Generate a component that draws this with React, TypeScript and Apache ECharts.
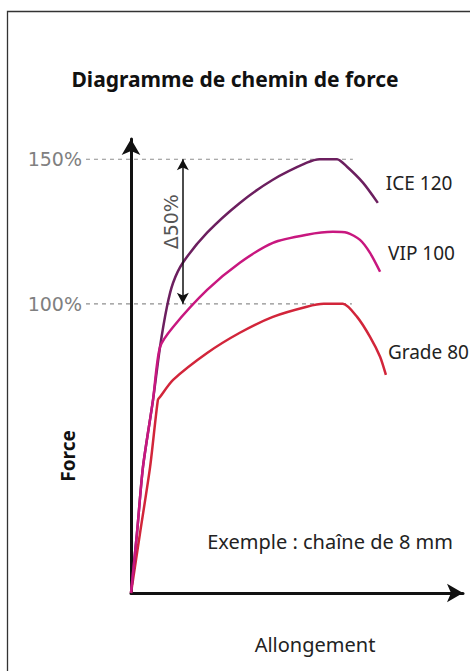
import React, { useEffect, useRef } from "react";
import * as echarts from "echarts";

const seriesNames = ["Grade 80", "ICE 120", "VIP 100"];
const seriesColors = ["#d2253a", "#6c1f5f", "#c8177f"];

// [elongation (arbitrary units), force %]
const grade80: number[][] = [
  [0, 0], [2.8, 20.8], [5.9, 43.6], [8.3, 66.8], [8.95, 67.8], [13, 73.7], [23.5, 83], [33.6, 90],
  [43.8, 95.5], [54.3, 99], [59.5, 100], [65.4, 100], [69.8, 95.5], [73.8, 88.6], [76.9, 81.7], [78.7, 75.4],
];
const ice120: number[][] = [
  [0, 0], [1.85, 20.8], [3.7, 43.6], [6.8, 66.8], [8.95, 85], [11.1, 99], [13, 107.3], [16, 114.2],
  [23.5, 124.6], [33.6, 134.9], [43.8, 142.9], [54.3, 148.8], [58.3, 150], [63.6, 150], [66.7, 147.4],
  [71.6, 141.9], [76.2, 134.9],
];
const vip100: number[][] = [
  [0, 0], [1.85, 20.8], [3.7, 43.6], [6.8, 66.8], [8.95, 85], [13, 92], [23.5, 104.8], [33.6, 114.2],
  [43.8, 121.1], [54.3, 123.9], [62.3, 124.9], [66.7, 124.6], [70.7, 122.1], [73.8, 117.6], [76.9, 111.1],
];
const seriesData = [grade80, ice120, vip100];
const labelOffsets = [[-6, -23], [0, -20], [0, -19]];

const yTickLabels = [100, 150];
const refLines = [
  { y: 150, xStart: -13.9, xEnd: 68.5 },
  { y: 100, xStart: -13.9, xEnd: 68.2 },
];
const deltaArrow = { x: 16, from: 150, to: 100, text: "Δ50%", textX: 12.5, textY: 128.4 };

const FONT = "'Noto Sans', 'Open Sans', sans-serif";

export default function App() {
  const ref = useRef<HTMLDivElement>(null);
  useEffect(() => {
    if (!ref.current) return;
    const chart = echarts.init(ref.current, null, { renderer: "svg" });
    const series: any[] = seriesNames.map((name, i) => ({
      type: "line",
      name,
      data: seriesData[i],
      smooth: 0.25,
      showSymbol: false,
      symbol: "none",
      lineStyle: { color: seriesColors[i], width: 2.5 },
      itemStyle: { color: seriesColors[i] },
      z: 3 + i,
      endLabel: {
        show: true,
        formatter: "{a}",
        offset: labelOffsets[i],
        fontSize: 19,
        fontFamily: FONT,
        color: "#222",
      },
    }));
    series.push({
      type: "line",
      data: [],
      silent: true,
      markPoint: {
        silent: true,
        symbol: "circle",
        symbolSize: 1,
        itemStyle: { color: "rgba(0,0,0,0)" },
        label: {
          show: true,
          formatter: deltaArrow.text,
          rotate: 90,
          position: "inside",
          fontSize: 19,
          fontFamily: "'DejaVu Sans', sans-serif",
          color: "#555",
        },
        data: [{ coord: [deltaArrow.textX, deltaArrow.textY] }],
      },
      markLine: {
        silent: true,
        symbol: ["arrow", "arrow"],
        symbolSize: [9, 11],
        label: { show: false },
        lineStyle: { color: "#111", type: "solid", width: 1.5 },
        data: [[{ coord: [deltaArrow.x, deltaArrow.from] }, { coord: [deltaArrow.x, deltaArrow.to] }]],
      },
    });

    const baseGraphic: any[] = [
      {
        type: "rect",
        shape: { x: 7.5, y: 11.5, width: 500, height: 700 },
        style: { fill: "none", stroke: "#333", lineWidth: 1.3 },
        silent: true,
      },
      {
        type: "text",
        x: 68,
        y: 456,
        rotation: Math.PI / 2,
        style: { text: "Force", fontSize: 19, fontWeight: "bold", fontFamily: FONT, fill: "#111", align: "center", verticalAlign: "middle" },
      },
      {
        type: "text",
        x: 315,
        y: 644,
        style: { text: "Allongement", fontSize: 20, fontFamily: FONT, fill: "#222", align: "center", verticalAlign: "middle" },
      },
      {
        type: "text",
        x: 453,
        y: 541,
        style: { text: "Exemple : chaîne de 8 mm", fontSize: 20, fontFamily: FONT, fill: "#222", align: "right", verticalAlign: "middle" },
      },
    ];

    chart.setOption({
      animation: false,
      title: {
        text: "Diagramme de chemin de force",
        left: "center",
        top: 63,
        textStyle: { fontSize: 21, fontWeight: "bold", fontFamily: FONT, color: "#111" },
      },
      grid: { left: 131, right: 7, top: 139, bottom: 78, containLabel: false },
      xAxis: {
        type: "value",
        min: 0,
        max: 102.5,
        axisLine: { show: true, lineStyle: { color: "#111", width: 3 }, symbol: ["none", "arrow"], symbolSize: [14, 16] },
        axisTick: { show: false },
        axisLabel: { show: false },
        splitLine: { show: false },
      },
      yAxis: {
        type: "value",
        min: 0,
        max: 157,
        interval: 50,
        axisLine: { show: true, lineStyle: { color: "#111", width: 3 }, symbol: ["none", "arrow"], symbolSize: [14, 16] },
        axisTick: { show: false },
        splitLine: { show: false },
        axisLabel: {
          show: true,
          margin: 49,
          fontSize: 19,
          fontFamily: "'DejaVu Sans', sans-serif",
          color: "#808080",
          formatter: (v: number) => (yTickLabels.includes(v) ? v + "%" : ""),
        },
      },
      graphic: baseGraphic,
      series,
    });

    const dashLines = refLines.map((r) => {
      const a = chart.convertToPixel({ gridIndex: 0 }, [r.xStart, r.y]) as number[];
      const b = chart.convertToPixel({ gridIndex: 0 }, [r.xEnd, r.y]) as number[];
      return {
        type: "line",
        silent: true,
        z: 1,
        shape: { x1: a[0], y1: a[1], x2: b[0], y2: b[1] },
        style: { stroke: "#8f8f8f", lineWidth: 1.2, lineDash: [4, 4] },
      };
    });
    chart.setOption({ graphic: [...baseGraphic, ...dashLines] });

    return () => chart.dispose();
  }, []);
  return <div ref={ref} style={{ position: "absolute", left: 0, top: 0, width: 470, height: 671 }} />;
}
